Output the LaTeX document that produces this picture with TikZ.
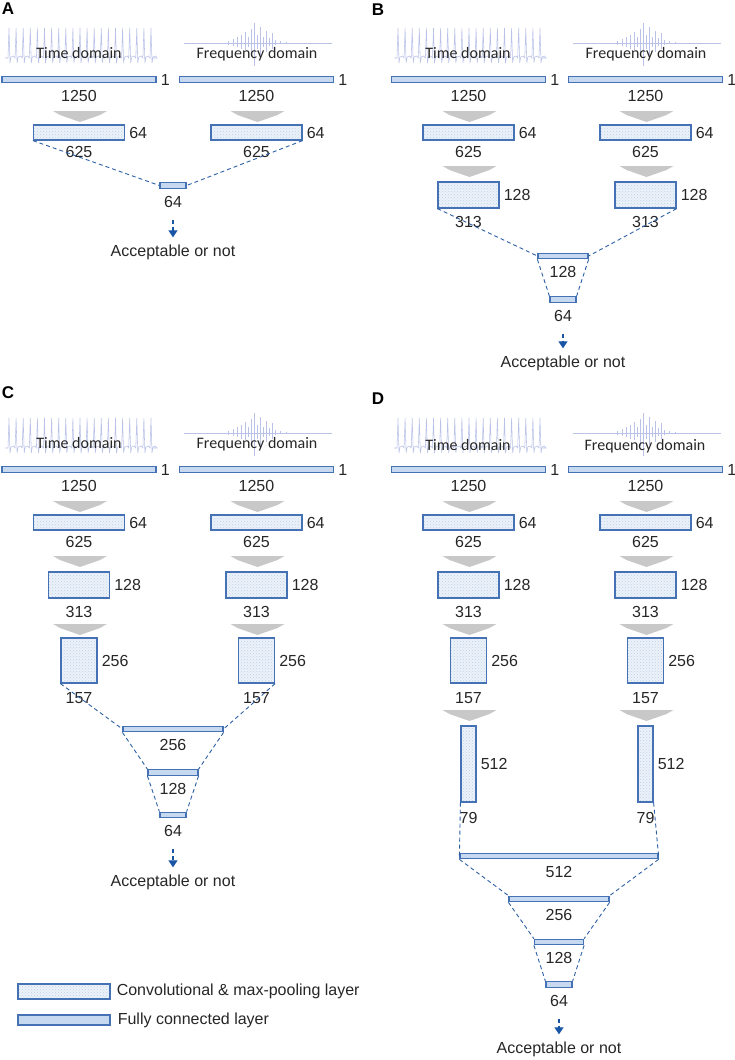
\documentclass[tikz,border=0pt]{standalone}
\usepackage{fontspec}
\setmainfont{Liberation Sans}
\newfontfamily\calibfont{Carlito}
\usepackage{tikz}
\usetikzlibrary{positioning}
\usetikzlibrary{patterns,arrows.meta}

\definecolor{boxblue}{RGB}{68,114,180}
\definecolor{fcfill}{RGB}{198,217,241}
\definecolor{convfill}{RGB}{236,242,249}
\definecolor{convdots}{RGB}{190,208,232}
\definecolor{arrowgray}{RGB}{200,200,200}
\definecolor{dashblue}{RGB}{45,95,165}
\definecolor{outblue}{RGB}{25,85,165}
\definecolor{sigblue}{RGB}{186,194,232}

% one input branch: name, centre x, number of conv layers
\newcommand{\netcolumn}[3]{%
  \node[inbar] (#1-0) at (#2,79.5) {};
  \node[lbl, right=4pt of #1-0] {1};
  \node[lbl, below=7pt of #1-0] {1250};
  \foreach \lw/\lh/\cy/\ay/\ch/\len/\gap [count=\i] in {91/15/132.5/111/64/625/5.5, 61/26/195/166/128/313/7.5, 36/45/270.5/234/256/157/8.5, 15/76/374/320/512/79/9.5}{
    \ifnum\i>#3\relax\else
      \pic at ({#2+1},\ay) {downarrow};
      \node[conv, minimum width=\lw pt, minimum height=\lh pt] (#1-\i) at (#2,\cy) {};
      \node[lbl, right=4pt of #1-\i] {\ch};
      \node[lbl, below=\gap pt of #1-\i] {\len};
    \fi
  }%
}

\begin{document}
\begin{tikzpicture}[x=1pt, y=-1pt, lbl/.style={inner sep=0pt, text=black!85, font=\fontsize{16}{19}\selectfont}, sigtext/.style={inner sep=0pt, text=black!85, font=\calibfont\fontsize{16}{19}\selectfont}, panel/.style={inner sep=0pt, font=\bfseries\fontsize{17}{20}\selectfont}, inbar/.style={draw=boxblue, line width=1.2pt, fill=fcfill, minimum width=154pt, minimum height=5.5pt, inner sep=0pt}, conv/.style={draw=boxblue, line width=1.2pt, preaction={fill=convfill}, pattern=crosshatch dots, pattern color=convdots, inner sep=0pt}, fc/.style={draw=boxblue, line width=1.2pt, fill=fcfill, minimum height=5.5pt, inner sep=0pt}, dashcon/.style={draw=dashblue, line width=0.9pt, dash pattern=on 4pt off 3pt}, outarrow/.style={draw=outblue, line width=1.1pt, dash pattern=on 4pt off 3pt, -{Triangle[width=9pt,length=7pt]}, shorten <=12pt, shorten >=7pt}, sigline/.style={draw=sigblue, line width=0.55pt}, downarrow/.pic={\fill[arrowgray] (-27,0) -- (27,0) -- (20,4) -- (0,11) -- (-20,4) -- cycle;}, timesig/.pic={\draw[sigline] (5,58) \foreach \k in {0,...,20} { -- ({8+\k*7.1},58) -- ({9+\k*7.1},28) -- ({10+\k*7.1},63) -- ({11+\k*7.1},57) -- ({13.5+\k*7.1},56) -- ({15+\k*7.1},58) } -- (153,58);}, freqsig/.pic={\draw[sigline] (184,43) -- (332,43); \foreach \x/\a/\b in {228/41/45, 233/39/46, 237/37/47, 241/35/49, 245/32/50, 248/37/47, 251/29/56, 254/23/66, 257/35/49, 260/27/55, 263/37/47, 266/31/52, 269/38/46, 272/33/49, 275/40/45, 280/41/44, 286/42/44} \draw[sigline] (\x,\a) -- (\x,\b);}]
\useasboundingbox (0,0) rectangle (735,1060);

\node[panel] (pA) at (8,9) {A};
\node[panel] (pB) at (378,10) {B};
\node[panel] (pC) at (8,393) {C};
\node[panel] (pD) at (378,399) {D};

% A
\pic at (0,0) {timesig};
\pic at (0,0) {freqsig};
\node[sigtext] (Atx) at (79,53) {Time domain};
\node[sigtext] (Afx) at (257,54) {Frequency domain};
\netcolumn{At}{79}{1}
\netcolumn{Af}{256.5}{1}
\node[fc, minimum width=26pt] (Ac1) at (173,185.5) {};
\node[lbl, below=7pt of Ac1] (Ac1l) {64};
\node[lbl] (Aacc) at (173,252) {Acceptable or not};
\draw[dashcon] (At-1.south west) -- (Ac1.west);
\draw[dashcon] (Af-1.south east) -- (Ac1.east);
\draw[outarrow] (Ac1l) -- (Aacc);

% B
\begin{scope}[shift={(389,0)}]
\pic at (0,0) {timesig};
\pic at (0,0) {freqsig};
\node[sigtext] (Btx) at (79,53) {Time domain};
\node[sigtext] (Bfx) at (257,54) {Frequency domain};
\netcolumn{Bt}{79.5}{2}
\netcolumn{Bf}{256.5}{2}
\node[fc, minimum width=50pt] (Bc1) at (174,256) {};
\node[lbl, below=7pt of Bc1] {128};
\node[fc, minimum width=26pt] (Bc2) at (174,299.5) {};
\node[lbl, below=7pt of Bc2] (Bc2l) {64};
\node[lbl] (Bacc) at (174,363) {Acceptable or not};
\draw[dashcon] (Bt-2.south west) -- (Bc1.west);
\draw[dashcon] (Bf-2.south east) -- (Bc1.east);
\draw[dashcon] (Bc1.south west) -- (Bc2.north west);
\draw[dashcon] (Bc1.south east) -- (Bc2.north east);
\draw[outarrow] (Bc2l) -- (Bacc);
\end{scope}

% C
\begin{scope}[shift={(0,390)}]
\pic at (0,0) {timesig};
\pic at (0,0) {freqsig};
\node[sigtext] (Ctx) at (79,53) {Time domain};
\node[sigtext] (Cfx) at (257,54) {Frequency domain};
\netcolumn{Ct}{79}{3}
\netcolumn{Cf}{256.5}{3}
\node[fc, minimum width=100pt] (Cc1) at (173,339) {};
\node[lbl, below=7pt of Cc1] {256};
\node[fc, minimum width=50pt] (Cc2) at (173,382.5) {};
\node[lbl, below=7pt of Cc2] {128};
\node[fc, minimum width=26pt] (Cc3) at (173,425) {};
\node[lbl, below=7pt of Cc3] (Cc3l) {64};
\node[lbl] (Cacc) at (173,492) {Acceptable or not};
\draw[dashcon] (Ct-3.south west) -- (Cc1.west);
\draw[dashcon] (Cf-3.south east) -- (Cc1.east);
\draw[dashcon] (Cc1.south west) -- (Cc2.north west);
\draw[dashcon] (Cc1.south east) -- (Cc2.north east);
\draw[dashcon] (Cc2.south west) -- (Cc3.north west);
\draw[dashcon] (Cc2.south east) -- (Cc3.north east);
\draw[outarrow] (Cc3l) -- (Cacc);
\end{scope}

% D
\begin{scope}[shift={(389,390)}]
\pic at (0,0) {timesig};
\pic at (0,0) {freqsig};
\node[sigtext] (Dtx) at (79,55) {Time domain};
\node[sigtext] (Dfx) at (256,56) {Frequency domain};
\netcolumn{Dt}{79.5}{4}
\netcolumn{Df}{256.5}{4}
\node[fc, minimum width=198pt] (Dc1) at (170,466) {};
\node[lbl, below=7pt of Dc1] {512};
\node[fc, minimum width=100pt] (Dc2) at (170,509) {};
\node[lbl, below=7pt of Dc2] {256};
\node[fc, minimum width=49pt] (Dc3) at (170,552) {};
\node[lbl, below=7pt of Dc3] {128};
\node[fc, minimum width=26pt] (Dc4) at (170,594.5) {};
\node[lbl, below=7pt of Dc4] (Dc4l) {64};
\node[lbl] (Dacc) at (170,659) {Acceptable or not};
\draw[dashcon] (Dt-4.south west) -- (Dc1.west);
\draw[dashcon] (Df-4.south east) -- (Dc1.east);
\draw[dashcon] (Dc1.south west) -- (Dc2.north west);
\draw[dashcon] (Dc1.south east) -- (Dc2.north east);
\draw[dashcon] (Dc2.south west) -- (Dc3.north west);
\draw[dashcon] (Dc2.south east) -- (Dc3.north east);
\draw[dashcon] (Dc3.south west) -- (Dc4.north west);
\draw[dashcon] (Dc3.south east) -- (Dc4.north east);
\draw[outarrow] (Dc4l) -- (Dacc);
\end{scope}

% legend
\node[conv, minimum width=92pt, minimum height=15pt] (lg1) at (64,991.5) {};
\node[lbl, right=6pt of lg1] {Convolutional \& max-pooling layer};
\node[fc, minimum width=92pt, minimum height=10pt] (lg2) at (64,1020) {};
\node[lbl, right=7pt of lg2] {Fully connected layer};
\end{tikzpicture}
\end{document}
